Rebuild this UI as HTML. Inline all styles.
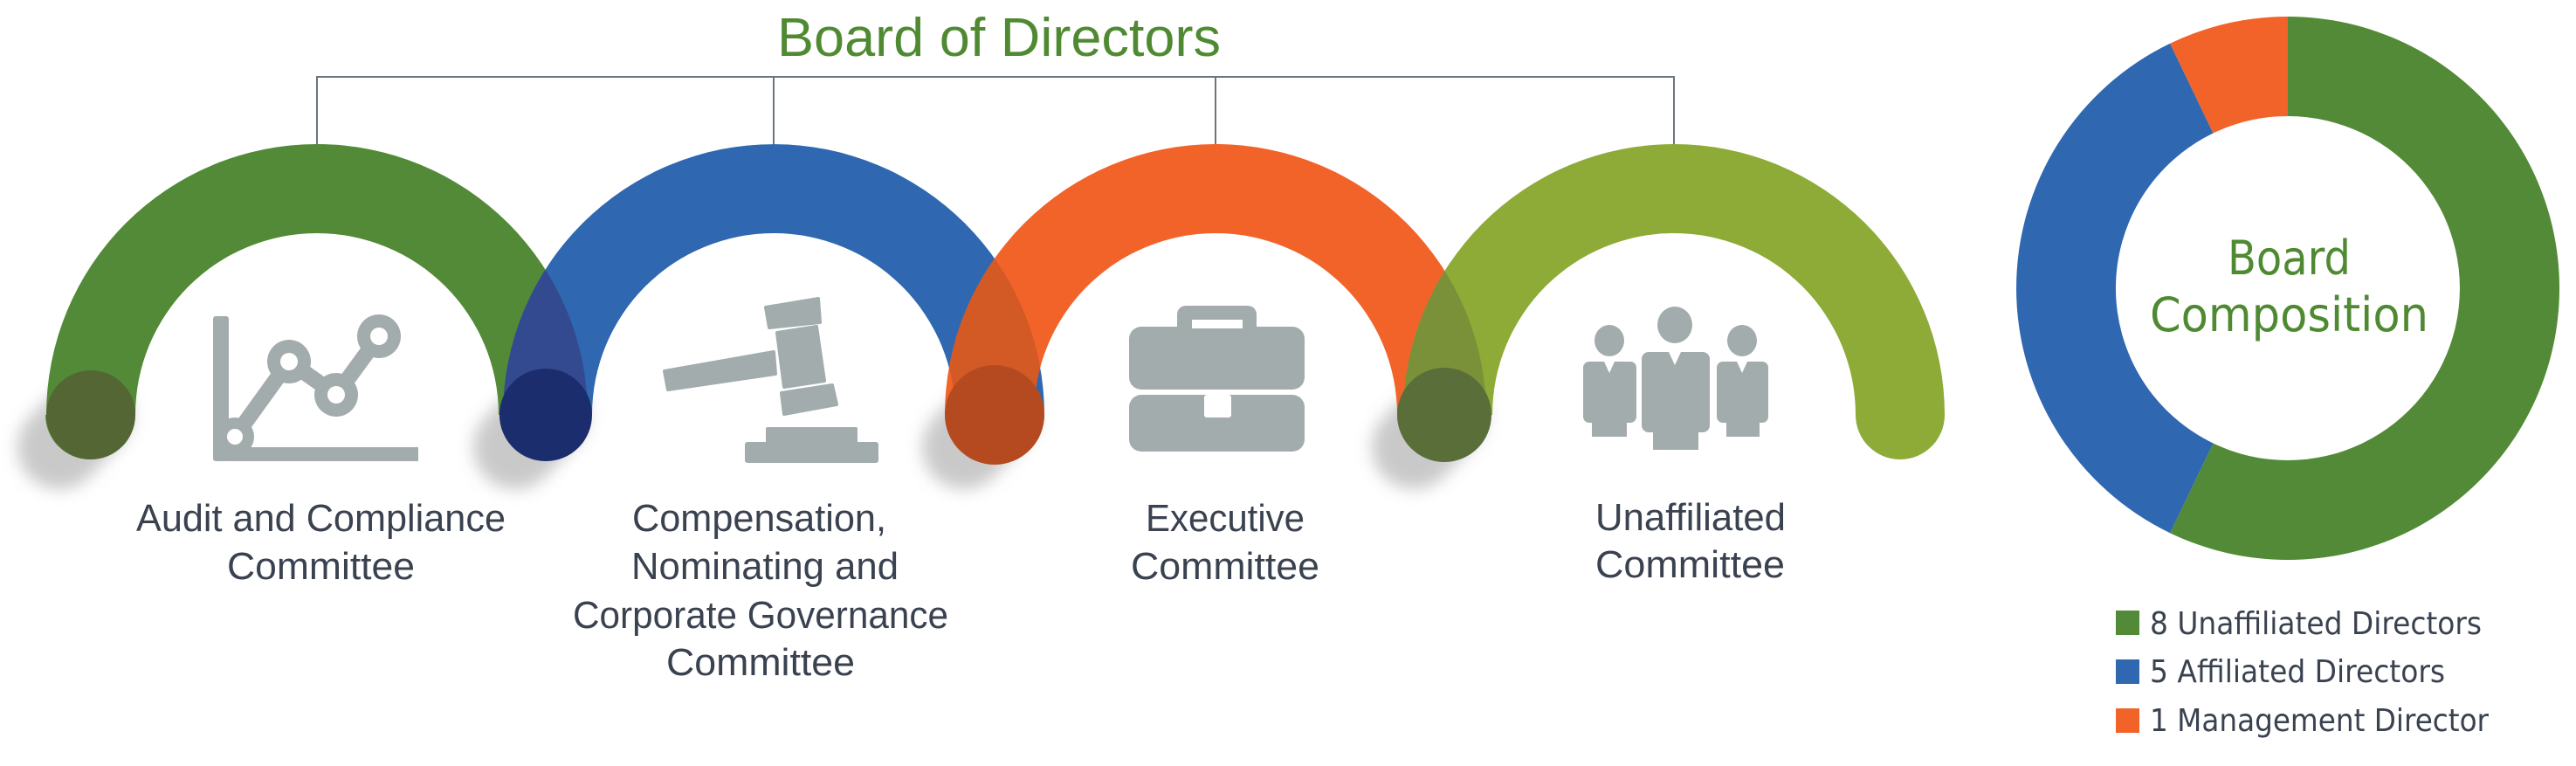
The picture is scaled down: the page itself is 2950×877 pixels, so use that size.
<!DOCTYPE html>
<html><head><meta charset="utf-8"><style>
html,body{margin:0;padding:0;background:#fff;}
svg{display:block;}
</style></head><body>
<svg width="2950" height="877" viewBox="0 0 2950 877" xmlns="http://www.w3.org/2000/svg">
<defs>
<filter id="blur" filterUnits="userSpaceOnUse" x="0" y="300" width="2000" height="400"><feGaussianBlur stdDeviation="9"/></filter>
<path id="a1" d="M53,475 A310 310 0 0 1 673,475 L571,475 A208 208 0 0 0 155,475 Z M52,475 A51 51 0 0 0 154,475 Z M572,475 A51 51 0 0 0 674,475 Z"/>
<path id="a2" d="M576,475 A310 310 0 0 1 1196,475 L1094,475 A208 208 0 0 0 678,475 Z M1094,475 A51 51 0 0 0 1196,475 Z"/>
<path id="a3" d="M1082,475 A310 310 0 0 1 1702,475 L1600,475 A208 208 0 0 0 1184,475 Z M1600,475 A51 51 0 0 0 1702,475 Z"/>
<path id="a4" d="M1607,475 A310 310 0 0 1 2227,475 L2125,475 A208 208 0 0 0 1709,475 Z M2125,475 A51 51 0 0 0 2227,475 Z"/>
<clipPath id="c1"><use href="#a1"/></clipPath>
<clipPath id="c2"><use href="#a2"/></clipPath>
<clipPath id="c3"><use href="#a3"/></clipPath>
</defs>

<text x="890" y="64" font-family="Liberation Sans Narrow, Liberation Sans, sans-serif" font-size="62" fill="#4f8a33" textLength="508" lengthAdjust="spacingAndGlyphs">Board of Directors</text>

<g stroke="#6b7580" stroke-width="2" fill="none">
<path d="M363,167 V88 H1917 V167"/>
<path d="M886,88 V167"/>
<path d="M1392,88 V167"/>
</g>

<g filter="url(#blur)" stroke="#b8b8b8" stroke-width="96" stroke-linecap="round" opacity="0.75">
<line x1="103" y1="476" x2="68" y2="512"/>
<line x1="625" y1="476" x2="590" y2="512"/>
<line x1="1139" y1="476" x2="1104" y2="512"/>
<line x1="1654" y1="476" x2="1619" y2="512"/>
</g>

<use href="#a1" fill="#528a37"/>
<use href="#a2" fill="#2f67b1"/>
<use href="#a3" fill="#f2632a"/>
<use href="#a4" fill="#8dab36"/>
<use href="#a2" fill="#344a90" clip-path="url(#c1)"/>
<use href="#a3" fill="#d35a25" clip-path="url(#c2)"/>
<use href="#a4" fill="#7b9139" clip-path="url(#c3)"/>
<circle cx="104" cy="475" r="51" fill="#536634"/>
<circle cx="625" cy="475" r="53" fill="#1c2d6d"/>
<circle cx="1139" cy="475" r="57" fill="#b54a20"/>
<circle cx="1654" cy="475" r="54" fill="#5a6e3a"/>

<g fill="#a3acad">
<rect x="244" y="362" width="18" height="166" rx="3"/>
<path d="M244,500 V510 Q244,528 262,528 H479 V512 H262 V500 Z"/>
<polyline points="269,500 331,414 385,452 434,385" fill="none" stroke="#a3acad" stroke-width="18"/>
<circle cx="269" cy="500" r="22"/><circle cx="331" cy="414" r="25"/><circle cx="385" cy="452" r="25"/><circle cx="434" cy="385" r="25"/>
</g>
<g fill="#fff">
<circle cx="269" cy="500" r="9"/><circle cx="331" cy="414" r="10"/><circle cx="385" cy="452" r="10"/><circle cx="434" cy="385" r="10"/>
</g>
<g fill="#a3acad" stroke="#a3acad" stroke-width="4" stroke-linejoin="round">
<polygon points="761,425 886,403 888,428 765,446"/>
<polygon points="877,352 937,342 939,369 881,375"/>
<polygon points="890,381 935,374 944,436 898,443"/>
<polygon points="895,450 953,441 958,463 898,474"/>
</g>
<g fill="#a3acad">
<rect x="877" y="489" width="105" height="20" rx="2"/>
<rect x="853" y="506" width="153" height="24" rx="3"/>
<rect x="1348" y="350" width="91" height="34" rx="10"/>
<rect x="1293" y="374" width="201" height="72" rx="14"/>
<rect x="1293" y="452" width="201" height="65" rx="14"/>
</g>
<rect x="1365" y="366" width="58" height="10" fill="#fff"/>
<rect x="1293" y="446" width="201" height="6" fill="#fff"/>
<rect x="1379" y="452" width="31" height="26" rx="3" fill="#fff"/>
<g fill="#a3acad">
<ellipse cx="1918" cy="372" rx="20" ry="21"/>
<rect x="1880" y="403" width="78" height="92" rx="8"/>
<rect x="1893" y="480" width="52" height="35"/>
<ellipse cx="1843" cy="390" rx="17" ry="18"/>
<rect x="1813" y="414" width="61" height="70" rx="7"/>
<rect x="1823" y="470" width="40" height="30"/>
<ellipse cx="1995" cy="390" rx="17" ry="18"/>
<rect x="1966" y="414" width="59" height="70" rx="7"/>
<rect x="1977" y="470" width="38" height="30"/>
</g>
<g fill="#fff">
<polygon points="1911,403 1925,403 1918,418"/>
<polygon points="1837,414 1849,414 1843,427"/>
<polygon points="1989,414 2001,414 1995,427"/>
<rect x="1874" y="400" width="6" height="100"/>
<rect x="1958" y="400" width="8" height="100"/>
</g>

<g font-family="Liberation Sans Narrow, Liberation Sans, sans-serif" font-size="44" fill="#3a4250">
<text x="156" y="608" textLength="423" lengthAdjust="spacingAndGlyphs">Audit and Compliance</text>
<text x="260" y="663" textLength="215" lengthAdjust="spacingAndGlyphs">Committee</text>
<text x="724" y="608" textLength="291" lengthAdjust="spacingAndGlyphs">Compensation,</text>
<text x="723" y="663" textLength="306" lengthAdjust="spacingAndGlyphs">Nominating and</text>
<text x="656" y="719" textLength="430" lengthAdjust="spacingAndGlyphs">Corporate Governance</text>
<text x="763" y="773" textLength="216" lengthAdjust="spacingAndGlyphs">Committee</text>
<text x="1312" y="608" textLength="182" lengthAdjust="spacingAndGlyphs">Executive</text>
<text x="1295" y="663" textLength="216" lengthAdjust="spacingAndGlyphs">Committee</text>
<text x="1827" y="607" textLength="218" lengthAdjust="spacingAndGlyphs">Unaffiliated</text>
<text x="1827" y="661" textLength="217" lengthAdjust="spacingAndGlyphs">Committee</text>
</g>

<path d="M2620,19 A311 311 0 1 1 2485.1,610.2 L2534.5,507.5 A197 197 0 1 0 2620,133 Z" fill="#528a37"/>
<path d="M2485.1,610.2 A311 311 0 0 1 2485.1,49.8 L2534.5,152.5 A197 197 0 0 0 2534.5,507.5 Z" fill="#2f67b1"/>
<path d="M2485.1,49.8 A311 311 0 0 1 2620,19 L2620,133 A197 197 0 0 0 2534.5,152.5 Z" fill="#f2632a"/>
<g font-family="DejaVu Sans, Liberation Sans, sans-serif" font-size="54" fill="#4f8a33">
<text x="2551" y="314" textLength="141" lengthAdjust="spacingAndGlyphs">Board</text>
<text x="2462" y="379" textLength="319" lengthAdjust="spacingAndGlyphs">Composition</text>
</g>

<rect x="2423" y="699" width="27" height="28" fill="#528a37"/>
<rect x="2423" y="755" width="27" height="28" fill="#2f67b1"/>
<rect x="2423" y="811" width="27" height="28" fill="#f2632a"/>
<g font-family="DejaVu Sans, Liberation Sans, sans-serif" font-size="36" fill="#3a4250">
<text x="2462" y="726" textLength="380" lengthAdjust="spacingAndGlyphs">8 Unaffiliated Directors</text>
<text x="2462" y="781" textLength="338" lengthAdjust="spacingAndGlyphs">5 Affiliated Directors</text>
<text x="2462" y="837" textLength="388" lengthAdjust="spacingAndGlyphs">1 Management Director</text>
</g>
</svg>
</body></html>
